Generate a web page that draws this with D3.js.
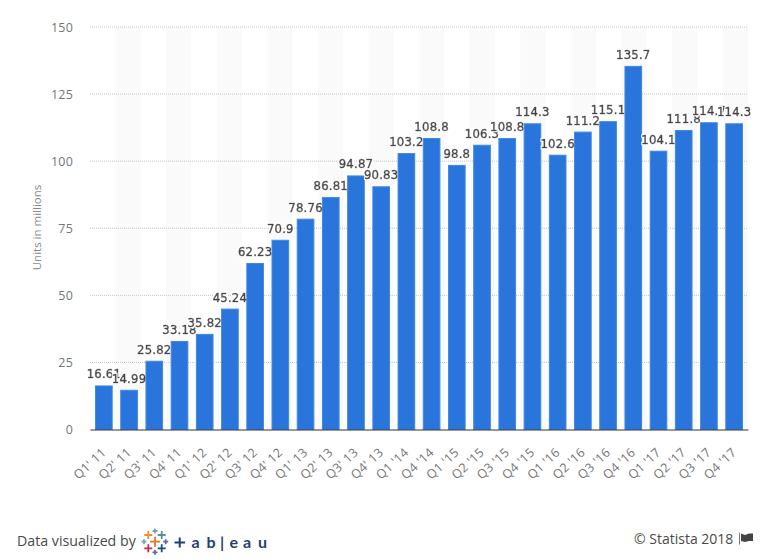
<!DOCTYPE html>
<html>
<head>
<meta charset="utf-8">
<script src="https://cdn.jsdelivr.net/npm/d3@7"></script>
<style>
  body { margin: 0; background: #fff; }
  text { font-family: "Open Sans", sans-serif; }
</style>
</head>
<body>
<script>
var quarters = ["Q1' 11", "Q2' 11", "Q3' 11", "Q4' 11", "Q1' 12", "Q2' 12", "Q3' 12", "Q4' 12",
    "Q1' 13", "Q2' 13", "Q3' 13", "Q4' 13", "Q1 '14", "Q4 '14", "Q1 '15", "Q2 '15", "Q3 '15", "Q4 '15",
    "Q1 '16", "Q2 '16", "Q3 '16", "Q4 '16", "Q1 '17", "Q2 '17", "Q3 '17", "Q4 '17"];
var units = [16.61, 14.99, 25.82, 33.18, 35.82, 45.24, 62.23, 70.9,
    78.76, 86.81, 94.87, 90.83, 103.2, 108.8, 98.8, 106.3, 108.8, 114.3,
    102.6, 111.2, 115.1, 135.7, 104.1, 111.8, 114.7, 114.3];
var yTicks = [0, 25, 50, 75, 100, 125, 150];

// tableau logo crosses: x, y, arm, colour
var logoCrosses = [
    [155, 541.7, 5, "#e8762b"], [148.3, 535, 4, "#f28e2b"], [161.7, 535, 4, "#5b8f9f"],
    [155, 531, 2.5, "#7aa5b8"], [148.3, 548.3, 4, "#c72e4b"], [161.7, 548.3, 4, "#1f4a7d"],
    [155, 552.3, 2.5, "#5e6f9e"], [144, 541.7, 2.5, "#7aa5b8"], [165.7, 541.7, 2.5, "#5e6f9e"]
];
var logoLetters = ["a", "b", "|", "e", "a", "u"];
var logoLetterX = [191.5, 206.5, 220, 229.5, 243, 258];

var svg = d3.select("body")
    .append("svg")
    .attr("width", 768)
    .attr("height", 559);

// white halo behind the value labels
var halo = svg.append("defs").append("filter")
    .attr("id", "halo")
    .attr("x", "-10%").attr("y", "-20%")
    .attr("width", "120%").attr("height", "140%");
halo.append("feMorphology")
    .attr("in", "SourceAlpha")
    .attr("operator", "dilate")
    .attr("radius", 0.8)
    .attr("result", "grown");
halo.append("feFlood")
    .attr("flood-color", "#fff");
halo.append("feComposite")
    .attr("in2", "grown")
    .attr("operator", "in")
    .attr("result", "white");
var haloMerge = halo.append("feMerge");
haloMerge.append("feMergeNode").attr("in", "white");
haloMerge.append("feMergeNode").attr("in", "SourceGraphic");

var x = d3.scaleBand()
    .domain(quarters)
    .range([90, 748])
    .paddingInner(0.3)
    .paddingOuter(0.2);

// same categories without padding, for the stripes
var xStripe = d3.scaleBand()
    .domain(quarters)
    .range([90, 748]);

var y = d3.scaleLinear()
    .domain([0, 150])
    .range([429.5, 27]);

// alternating background stripes
svg.selectAll(".stripe")
    .data(quarters.filter(function(d, i) { return i % 2 == 1; }))
    .enter().append("rect")
    .attr("class", "stripe")
    .attr("fill", "#fafafa")
    .attr("x", function(d) { return xStripe(d); })
    .attr("y", y(150))
    .attr("width", xStripe.bandwidth())
    .attr("height", y(0) - y(150));

// gridlines
svg.selectAll(".grid")
    .data(yTicks.filter(function(d) { return d > 0; }))
    .enter().append("line")
    .attr("class", "grid")
    .attr("x1", 90)
    .attr("x2", 748)
    .attr("y1", function(d) { return y(d); })
    .attr("y2", function(d) { return y(d); })
    .attr("stroke", "#c4c4c4")
    .attr("stroke-width", 1)
    .attr("stroke-dasharray", "1,1");

// y axis
var yAxis = svg.append("g")
    .attr("transform", "translate(90,0)")
    .call(d3.axisLeft(y).tickValues(yTicks).tickSize(0).tickPadding(17));
yAxis.select(".domain").remove();
yAxis.selectAll("text")
    .attr("fill", "#757575")
    .style("font-size", "12.5px")
    .style("letter-spacing", "0.2px");

svg.append("text")
    .attr("transform", "translate(41,227.5) rotate(-90)")
    .attr("text-anchor", "middle")
    .attr("fill", "#8a8a8a")
    .style("font-size", "11.5px")
    .text("Units in millions");

// bars and labels go in order so each one sits on top of the previous
var groups = svg.selectAll(".bar")
    .data(units)
    .enter().append("g")
    .attr("class", "bar");

groups.append("rect")
    .attr("fill", "#2a75dc")
    .attr("stroke", "#3f88e6")
    .attr("stroke-width", 1)
    .attr("x", function(d, i) { return x(quarters[i]) + 0.5; })
    .attr("y", function(d) { return y(d) + 1; })
    .attr("width", x.bandwidth() - 1)
    .attr("height", function(d) { return y(0) - y(d) - 1; });

groups.append("text")
    .attr("x", function(d, i) { return x(quarters[i]) + x.bandwidth() / 2; })
    .attr("y", function(d) { return y(d) - 6.5; })
    .attr("text-anchor", "middle")
    .attr("fill", "#444")
    .attr("stroke", "#444")
    .attr("stroke-width", 0.55)
    .attr("filter", "url(#halo)")
    .style("font-family", "'DejaVu Sans', sans-serif")
    .style("font-size", "11.7px")
    .style("letter-spacing", "0.2px")
    .text(function(d) { return d; });

// x axis
var xAxis = svg.append("g")
    .attr("transform", "translate(0," + y(0) + ")")
    .call(d3.axisBottom(x).tickSize(0).tickPadding(0));
xAxis.select(".domain")
    .attr("stroke", "#333")
    .attr("stroke-width", 1.2);
xAxis.selectAll("text")
    .attr("fill", "#757575")
    .attr("text-anchor", "end")
    .attr("dy", 0)
    .attr("transform", "translate(3,24) rotate(-43)")
    .style("font-size", "12.5px")
    .style("letter-spacing", "0.3px");

// footer
svg.append("text")
    .attr("x", 17)
    .attr("y", 546)
    .attr("fill", "#4a4a4a")
    .style("font-size", "14.2px")
    .text("Data visualized by");

var logo = svg.append("g");
logoCrosses.forEach(function(c) {
    logo.append("path")
        .attr("d", "M" + (c[0] - c[2]) + "," + c[1] + "H" + (c[0] + c[2]) + "M" + c[0] + "," + (c[1] - c[2]) + "V" + (c[1] + c[2]))
        .attr("stroke", c[3])
        .attr("stroke-width", 1.8)
        .attr("fill", "none");
});
logo.append("path")
    .attr("d", "M174.5,542.5H185M179.7,537.5V547.5")
    .attr("stroke", "#1f3f77")
    .attr("stroke-width", 2)
    .attr("fill", "none");
logo.selectAll(".letter")
    .data(logoLetters)
    .enter().append("text")
    .attr("class", "letter")
    .attr("x", function(d, i) { return logoLetterX[i]; })
    .attr("y", 548)
    .attr("fill", "#1f3f77")
    .style("font-family", "Lato, sans-serif")
    .style("font-size", "16px")
    .style("font-weight", "700")
    .text(function(d) { return d; });

svg.append("text")
    .attr("x", 634)
    .attr("y", 544)
    .attr("fill", "#4a4a4a")
    .style("font-size", "14px")
    .text("© Statista 2018");

// little flag next to the copyright
svg.append("path")
    .attr("d", "M739.5,532.7V544.5")
    .attr("stroke", "#777")
    .attr("stroke-width", 1);
svg.append("path")
    .attr("d", "M741,533.5 L745,535 L749,533.5 L753,533.5 V541 L749,541 L745,542 L741,541 Z")
    .attr("fill", "#444");
</script>
</body>
</html>
